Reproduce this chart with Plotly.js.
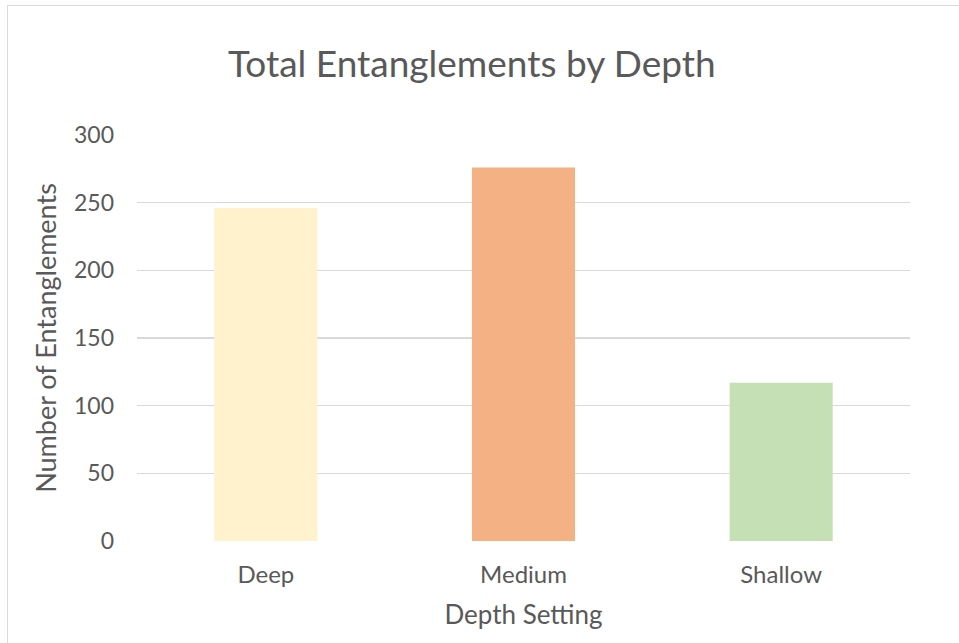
<!DOCTYPE html>
<html>
<head>
<meta charset="utf-8">
<script src="https://cdn.plot.ly/plotly-3.0.1.min.js"></script>
<style>
  html, body { margin: 0; padding: 0; background: #ffffff; overflow: hidden; }
  #frame {
    position: absolute; left: 7px; top: 5px; width: 1000px; height: 700px;
    border-left: 1.5px solid #d9d9d9; border-top: 1.5px solid #d9d9d9;
  }
  #chart { position: absolute; left: 0; top: 0; width: 959px; height: 643px; }
</style>
</head>
<body>
<div id="frame"></div>
<div id="chart"></div>
<script>
// Entanglement counts for each depth setting
const depthSettings = ['Deep', 'Medium', 'Shallow'];
const entanglements = [246, 276, 117];
const barColors = ['#FFF2CC', '#F4B183', '#C5E0B4'];
const yTicks = [0, 50, 100, 150, 200, 250, 300];

const textColor = '#595959';
const fontFamily = 'Lato, "Open Sans", sans-serif';

const trace = {
  type: 'bar',
  x: depthSettings,
  y: entanglements,
  marker: { color: barColors, line: { width: 0 } },
  hoverinfo: 'x+y'
};

const layout = {
  width: 959,
  height: 643,
  autosize: false,
  paper_bgcolor: 'rgba(0,0,0,0)',
  plot_bgcolor: 'rgba(0,0,0,0)',
  margin: { l: 137, r: 49, t: 135, b: 102, pad: 0 },
  bargap: 0.6,
  showlegend: false,
  font: { family: fontFamily, color: textColor },
  title: {
    text: 'Total Entanglements by Depth',
    font: { family: fontFamily, size: 37, color: textColor },
    x: 0.492,
    xanchor: 'center',
    y: 0.9,
    yanchor: 'middle'
  },
  xaxis: {
    type: 'category',
    showgrid: false,
    showline: false,
    zeroline: false,
    ticks: '',
    tickfont: { family: fontFamily, size: 24, color: textColor },
    ticklabelstandoff: 17,
    title: {
      text: 'Depth Setting',
      font: { family: fontFamily, size: 26, color: textColor },
      standoff: 18
    }
  },
  yaxis: {
    range: [0, 300],
    tickvals: yTicks,
    ticktext: yTicks.map(String),
    showgrid: true,
    gridcolor: '#d9d9d9',
    gridwidth: 1.5,
    zeroline: false,
    showline: false,
    ticks: '',
    tickfont: { family: fontFamily, size: 23, color: textColor },
    ticklabelstandoff: 22,
    title: {
      text: 'Number of Entanglements',
      font: { family: fontFamily, size: 27, color: textColor },
      standoff: 9
    }
  }
};

Plotly.newPlot('chart', [trace], layout, { displayModeBar: false, staticPlot: true });
</script>
</body>
</html>
